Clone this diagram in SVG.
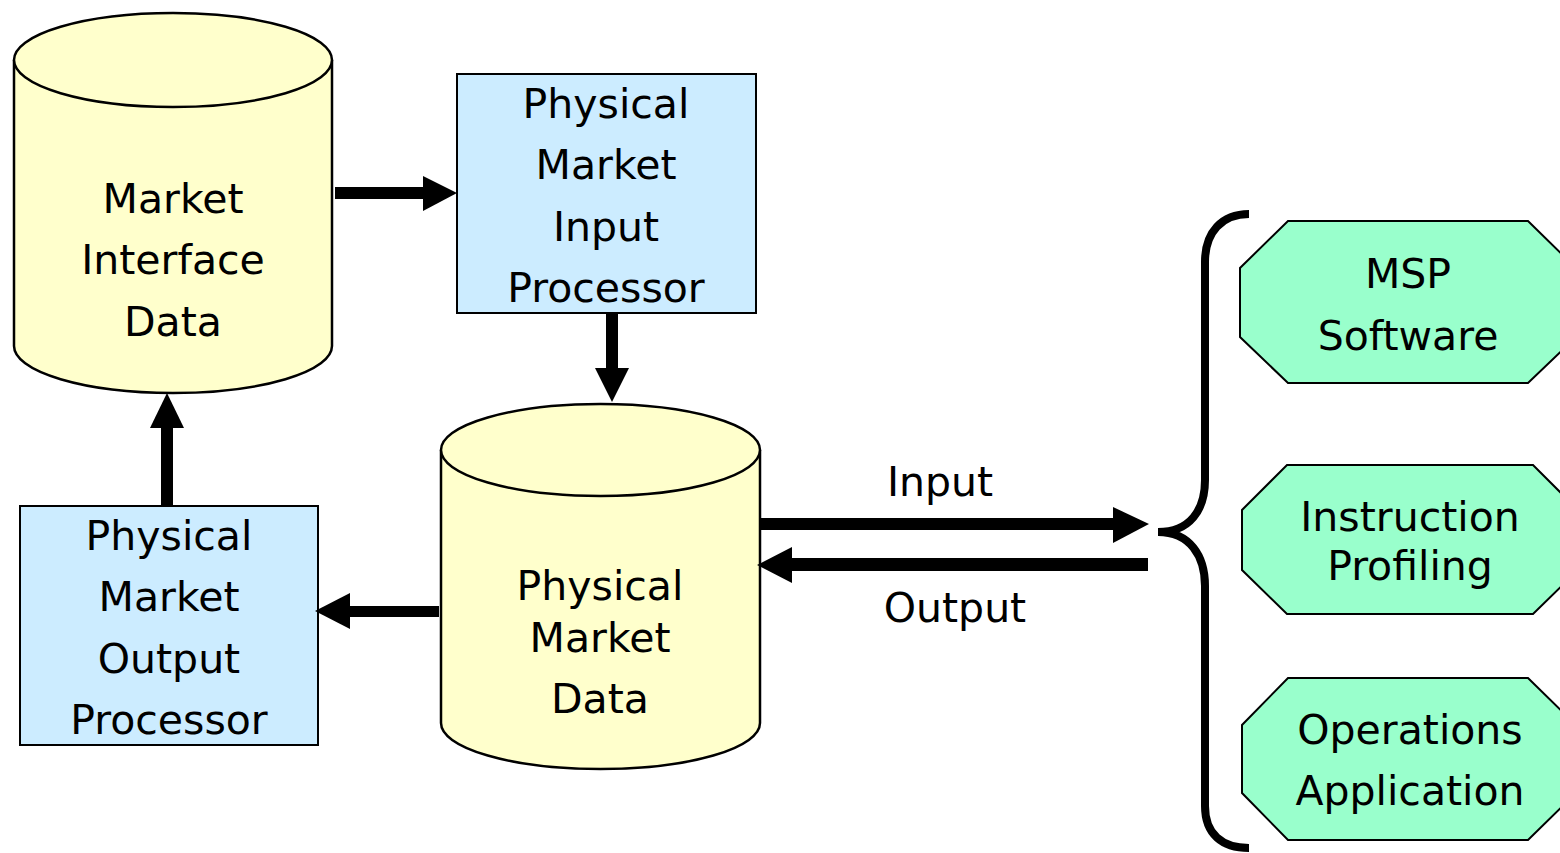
<svg xmlns="http://www.w3.org/2000/svg" width="1560" height="853" viewBox="0 0 1560 853">
  <style>
    .db { fill: #FFFFCC; stroke: #000; stroke-width: 2.5; }
    .proc { fill: #CCECFF; stroke: #000; stroke-width: 2; }
    .oct { fill: #99FFCC; stroke: #000; stroke-width: 2; }
    .lbl { font-family: "DejaVu Sans", Verdana, sans-serif; font-size: 41px; fill: #000; text-anchor: middle; }
    .shaft { fill: #000; }
    .brace { fill: none; stroke: #000; stroke-width: 8; stroke-linecap: butt; }
  </style>

  <rect width="1560" height="853" fill="#fff"/>

  <!-- Market Interface Data store -->
  <g id="market-interface-data">
    <path class="db" d="M14,60 L14,346 A159,47 0 0 0 332,346 L332,60"/>
    <ellipse class="db" cx="173" cy="60" rx="159" ry="47"/>
    <text class="lbl" x="173" y="213">Market</text>
    <text class="lbl" x="173" y="274">Interface</text>
    <text class="lbl" x="173" y="336">Data</text>
  </g>

  <!-- Physical Market Input Processor -->
  <g id="pm-input-processor">
    <rect class="proc" x="457" y="74" width="299" height="239"/>
    <text class="lbl" x="606" y="118">Physical</text>
    <text class="lbl" x="606" y="179">Market</text>
    <text class="lbl" x="606" y="241">Input</text>
    <text class="lbl" x="606" y="302">Processor</text>
  </g>

  <!-- Physical Market Data store -->
  <g id="physical-market-data">
    <path class="db" d="M441,450 L441,723 A159.5,46 0 0 0 760,723 L760,450"/>
    <ellipse class="db" cx="600.5" cy="450" rx="159.5" ry="46"/>
    <text class="lbl" x="600" y="600">Physical</text>
    <text class="lbl" x="600" y="652">Market</text>
    <text class="lbl" x="600" y="713">Data</text>
  </g>

  <!-- Physical Market Output Processor -->
  <g id="pm-output-processor">
    <rect class="proc" x="20" y="506" width="298" height="239"/>
    <text class="lbl" x="169" y="550">Physical</text>
    <text class="lbl" x="169" y="611">Market</text>
    <text class="lbl" x="169" y="673">Output</text>
    <text class="lbl" x="169" y="734">Processor</text>
  </g>

  <!-- External consumers -->
  <g id="msp-software">
    <polygon class="oct" points="1288,221 1528,221 1576,268 1576,337 1528,383 1288,383 1240,337 1240,268"/>
    <text class="lbl" x="1408" y="288">MSP</text>
    <text class="lbl" x="1408" y="350">Software</text>
  </g>
  <g id="instruction-profiling">
    <polygon class="oct" points="1287,465 1533,465 1578,510 1578,570 1533,614 1287,614 1242,570 1242,510"/>
    <text class="lbl" x="1410" y="531">Instruction</text>
    <text class="lbl" x="1410" y="580">Profiling</text>
  </g>
  <g id="operations-application">
    <polygon class="oct" points="1288,678 1528,678 1576,725 1576,793 1528,840 1288,840 1242,793 1242,725"/>
    <text class="lbl" x="1410" y="744">Operations</text>
    <text class="lbl" x="1410" y="805">Application</text>
  </g>

  <!-- Connectors -->
  <g id="connectors">
    <!-- MID -> PMIP -->
    <rect class="shaft" x="335" y="187" width="90" height="12"/>
    <polygon class="shaft" points="423,176 457,193 423,211"/>
    <!-- PMIP -> PMD -->
    <rect class="shaft" x="606" y="313" width="12" height="57"/>
    <polygon class="shaft" points="595,368 612,402 629,368"/>
    <!-- PMD -> PMOP -->
    <rect class="shaft" x="348" y="606" width="91" height="11"/>
    <polygon class="shaft" points="350,593 315,611 350,629"/>
    <!-- PMOP -> MID -->
    <rect class="shaft" x="161" y="426" width="12" height="79"/>
    <polygon class="shaft" points="150,428 167,393 184,428"/>
    <!-- Input -->
    <rect class="shaft" x="760" y="518" width="355" height="12"/>
    <polygon class="shaft" points="1113,507 1149,524 1113,543"/>
    <!-- Output -->
    <rect class="shaft" x="790" y="558" width="358" height="13"/>
    <polygon class="shaft" points="792,547 757,565 792,583"/>
    <!-- brace grouping the consumers -->
    <path class="brace" d="M1249,214 C1222,214 1205,232 1205,262 L1205,480 C1205,510 1190,532 1158,532 C1190,532 1205,556 1205,586 L1205,806 C1205,834 1222,848 1249,848"/>
  </g>

  <text class="lbl" x="940" y="496">Input</text>
  <text class="lbl" x="955" y="622">Output</text>
</svg>
